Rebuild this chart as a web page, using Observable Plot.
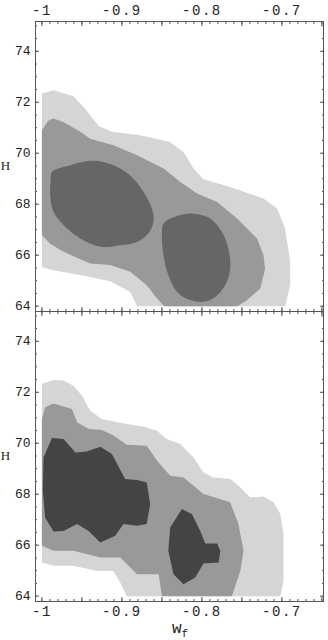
<!DOCTYPE html>
<html><head><meta charset="utf-8">
<script src="https://cdn.jsdelivr.net/npm/d3@7"></script>
<script src="https://cdn.jsdelivr.net/npm/@observablehq/plot@0.6"></script>
<style>
html,body{margin:0;padding:0;background:#fff;}
#wrap{position:relative;width:328px;height:640px;overflow:hidden;}
#xlabel{position:absolute;left:172px;top:621px;font-family:"Liberation Mono",monospace;font-size:16px;color:#222;line-height:16px;}
#xlabel sub{font-size:11px;vertical-align:-4px;}
</style></head><body><div id="wrap"><div id="xlabel">w<sub>f</sub></div></div>
<script>
// panels
const panels = ["top", "bottom"];
// axis ticks
const xTickLabels = [-1, -0.9, -0.8, -0.7];
const xMajorTicks = [-1, -0.95, -0.9, -0.85, -0.8, -0.75, -0.7, -0.65];
const xMinorTicks = [-1, -0.99, -0.98, -0.97, -0.96, -0.95, -0.94, -0.93, -0.92, -0.91, -0.9, -0.89, -0.88, -0.87, -0.86, -0.85, -0.84, -0.83, -0.82, -0.81, -0.8, -0.79, -0.78, -0.77, -0.76, -0.75, -0.74, -0.73, -0.72, -0.71, -0.7, -0.69, -0.68, -0.67, -0.66, -0.65];
const yTickLabels = [64, 66, 68, 70, 72, 74];
const yMinorTicks = [64, 64.5, 65, 65.5, 66, 66.5, 67, 67.5, 68, 68.5, 69, 69.5, 70, 70.5, 71, 71.5, 72, 72.5, 73, 73.5, 74, 74.5, 75];

// contour regions [w_f, H], top panel
const topLight = [[-1.0,72.34],[-0.9855,72.47],[-0.9605,72.24],[-0.946,71.75],[-0.929,71.07],[-0.9125,70.84],[-0.877,70.71],[-0.840,70.44],[-0.823,70.05],[-0.8105,69.40],[-0.798,68.98],[-0.7646,68.68],[-0.723,68.22],[-0.706,67.83],[-0.696,67.04],[-0.6896,65.74],[-0.6896,64.89],[-0.692,64.5],[-0.696,64.0],[-0.881,64.0],[-0.8896,64.56],[-0.9146,64.98],[-0.952,65.22],[-0.9855,65.41],[-1.0,65.54]];
const topMid = [[-1.0,70.9],[-0.9917,71.29],[-0.9855,71.36],[-0.973,71.23],[-0.952,70.84],[-0.9396,70.57],[-0.9105,70.31],[-0.881,69.92],[-0.848,69.40],[-0.827,68.87],[-0.806,68.42],[-0.781,68.09],[-0.756,67.44],[-0.731,66.65],[-0.723,66.0],[-0.721,65.47],[-0.727,64.69],[-0.745,64.2],[-0.756,64.0],[-0.847,64.0],[-0.856,64.3],[-0.869,64.82],[-0.8896,65.35],[-0.9146,65.61],[-0.9396,65.67],[-0.973,66.13],[-0.9896,66.45],[-1.0,66.78]];
const topDarkA = [[-0.9875,69.27],[-0.9646,69.53],[-0.944,69.69],[-0.923,69.66],[-0.902,69.40],[-0.8855,69.0],[-0.873,68.48],[-0.8625,67.83],[-0.8605,67.31],[-0.867,66.85],[-0.881,66.52],[-0.902,66.39],[-0.927,66.33],[-0.952,66.65],[-0.973,67.18],[-0.9855,67.70],[-0.9896,68.35],[-0.989,68.94]];
const topDarkB = [[-0.848,67.24],[-0.831,67.54],[-0.8105,67.63],[-0.7896,67.44],[-0.775,66.91],[-0.767,66.26],[-0.7646,65.47],[-0.771,64.82],[-0.7834,64.36],[-0.798,64.17],[-0.8146,64.24],[-0.831,64.56],[-0.842,65.22],[-0.848,66.0],[-0.85,66.78]];

// contour regions [w_f, H], bottom panel
const botLight = [[-1.0,72.33],[-0.9855,72.48],[-0.973,72.46],[-0.9605,72.26],[-0.95,71.87],[-0.9396,71.28],[-0.925,70.95],[-0.906,70.82],[-0.873,70.65],[-0.856,70.49],[-0.844,70.17],[-0.827,69.97],[-0.8105,69.44],[-0.798,68.85],[-0.7855,68.66],[-0.7646,68.60],[-0.752,68.27],[-0.7396,67.87],[-0.723,67.91],[-0.7105,67.68],[-0.702,67.22],[-0.698,66.44],[-0.698,64.6],[-0.702,64.0],[-0.894,64.0],[-0.902,64.53],[-0.9105,64.99],[-0.931,64.99],[-0.9605,65.19],[-0.9855,65.19],[-1.0,65.32]];
const botMid = [[-1.0,70.95],[-0.996,71.41],[-0.9855,71.56],[-0.9625,71.34],[-0.956,70.82],[-0.9417,70.56],[-0.925,70.52],[-0.9105,70.30],[-0.894,69.94],[-0.869,69.90],[-0.856,69.31],[-0.8396,68.72],[-0.823,68.66],[-0.798,68.01],[-0.7646,67.68],[-0.7543,66.83],[-0.748,65.78],[-0.752,64.99],[-0.7625,64.0],[-0.85,64.0],[-0.854,64.86],[-0.881,64.86],[-0.902,65.52],[-0.927,65.52],[-0.9605,65.78],[-0.9855,65.78],[-1.0,65.98]];
const botDarkA = [[-0.998,69.44],[-0.9875,70.21],[-0.973,70.17],[-0.958,69.64],[-0.944,69.68],[-0.927,69.86],[-0.9125,69.58],[-0.896,68.60],[-0.881,68.56],[-0.869,68.46],[-0.8646,67.61],[-0.869,66.83],[-0.881,66.76],[-0.898,66.83],[-0.9084,66.37],[-0.927,66.11],[-0.9417,66.56],[-0.956,66.83],[-0.973,66.56],[-0.9855,66.54],[-0.996,67.09],[-0.9988,68.14]];
const botDarkB = [[-0.8396,66.69],[-0.825,67.42],[-0.8125,67.22],[-0.802,66.56],[-0.7959,66.07],[-0.781,66.07],[-0.777,65.78],[-0.779,65.32],[-0.798,65.28],[-0.8084,64.73],[-0.823,64.47],[-0.8355,64.86],[-0.842,65.78]];

const cLight = "#d5d5d5", cMid = "#999999", cDarkTop = "#666666", cDarkBot = "#444444";
const axisColor = "#555555";

const layers = [
  {data: topLight, panel: "top", fill: cLight, curve: "linear-closed"},
  {data: topMid, panel: "top", fill: cMid, curve: "linear-closed"},
  {data: topDarkA, panel: "top", fill: cDarkTop, curve: "catmull-rom-closed"},
  {data: topDarkB, panel: "top", fill: cDarkTop, curve: "catmull-rom-closed"},
  {data: botLight, panel: "bottom", fill: cLight, curve: "linear-closed"},
  {data: botMid, panel: "bottom", fill: cMid, curve: "linear-closed"},
  {data: botDarkA, panel: "bottom", fill: cDarkBot, curve: "linear-closed"},
  {data: botDarkB, panel: "bottom", fill: cDarkBot, curve: "linear-closed"}
];

const fmt = d => String(Math.round(d * 10) / 10);
const monoFont = "'Liberation Mono', monospace";

const chart = Plot.plot({
  width: 328,
  height: 640,
  marginLeft: 35,
  marginRight: 5,
  marginTop: 20,
  marginBottom: 39,
  style: {fontFamily: monoFont, fontSize: "13px", color: "#222", background: "#fff", overflow: "visible"},
  fy: {domain: panels, padding: 0, axis: null},
  x: {domain: [-1.008, -0.648], axis: null},
  y: {domain: [63.79, 75.17], axis: null},
  marks: [
    ...layers.map(L => Plot.line(L.data, {x: d => d[0], y: d => d[1], fy: () => L.panel, fill: L.fill, stroke: "none", curve: L.curve})),
    Plot.frame({stroke: axisColor}),
    // x tick labels
    Plot.axisX(xTickLabels, {anchor: "top", tickSize: 0, tickPadding: 7, tickFormat: fmt, label: null, fontSize: 14, fontFamily: monoFont}),
    Plot.axisX(xTickLabels, {anchor: "bottom", tickSize: 0, tickPadding: 5, tickFormat: fmt, label: null, fontSize: 14, fontFamily: monoFont}),
    // x ticks (inward) on all panel edges
    Plot.axisX(xMajorTicks, {anchor: "top", fill: "none", stroke: axisColor, tickSize: 4, dy: 4, facetAnchor: null, label: null}),
    Plot.axisX(xMajorTicks, {anchor: "bottom", fill: "none", stroke: axisColor, tickSize: 4, dy: -4, facetAnchor: null, label: null}),
    Plot.axisX(xMinorTicks, {anchor: "top", fill: "none", stroke: axisColor, tickSize: 2, dy: 2, facetAnchor: null, label: null}),
    Plot.axisX(xMinorTicks, {anchor: "bottom", fill: "none", stroke: axisColor, tickSize: 2, dy: -2, facetAnchor: null, label: null}),
    // y tick labels
    Plot.axisY(yTickLabels, {anchor: "left", tickSize: 0, tickPadding: 5, label: null, fontSize: 13, fontFamily: monoFont}),
    Plot.axisY(yTickLabels, {anchor: "left", fill: "none", stroke: axisColor, tickSize: 4, dx: 4, label: null}),
    Plot.axisY(yTickLabels, {anchor: "right", fill: "none", stroke: axisColor, tickSize: 4, dx: -4, label: null}),
    Plot.axisY(yMinorTicks, {anchor: "left", fill: "none", stroke: axisColor, tickSize: 2, dx: 2, label: null}),
    Plot.axisY(yMinorTicks, {anchor: "right", fill: "none", stroke: axisColor, tickSize: 2, dx: -2, label: null}),
    // y axis title
    Plot.text(["H"], {text: d => d, frameAnchor: "left", dx: -30, dy: -1, fontFamily: "'Liberation Serif', serif", fontSize: 13, textAnchor: "middle"})
  ]
});
d3.select(chart).selectAll('g[aria-label="x-axis tick label"] text').style("letter-spacing", "1.5px");
document.getElementById("wrap").prepend(chart);
</script>
</body></html>
